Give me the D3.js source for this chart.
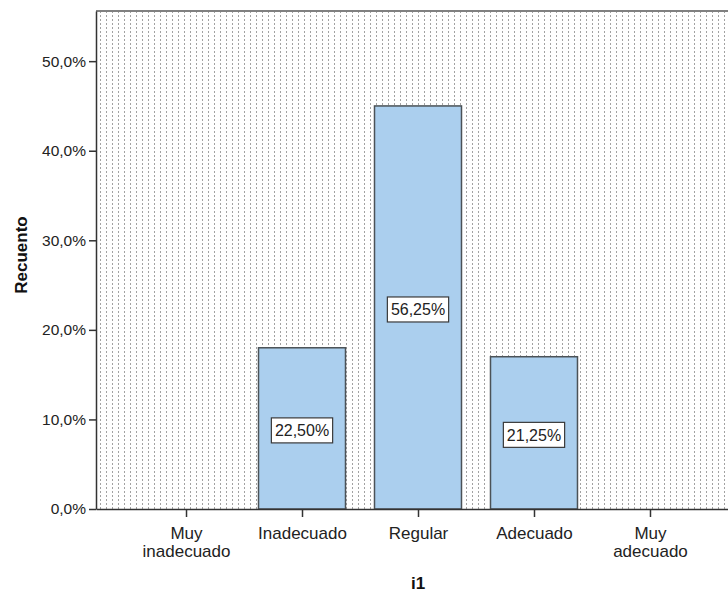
<!DOCTYPE html>
<html>
<head>
<meta charset="utf-8">
<script src="https://cdn.jsdelivr.net/npm/d3@7"></script>
<style>
  body { margin: 0; background: #fff; }
  svg { display: block; font-family: "Liberation Sans", Arial, sans-serif; }
  .bar { fill: #abcfee; stroke: #4b5257; stroke-width: 1.5; }
  .bar-label-box { fill: #fff; stroke: #3a3a3a; stroke-width: 1.2; }
  .bar-label { font-size: 16px; fill: #222; }
  .axis-title { font-weight: bold; font-size: 17px; fill: #111; }
</style>
</head>
<body>
<div id="chart"></div>
<script>
// data
const categories = ['Muy inadecuado', 'Inadecuado', 'Regular', 'Adecuado', 'Muy adecuado'];
const counts = [0, 18, 45, 17, 0];
const pctLabels = ['', '22,50%', '56,25%', '21,25%', ''];
const yTicks = [0, 10, 20, 30, 40, 50];

const config = {
  width: 728,
  height: 592,
  margin: {top: 11, right: -12, bottom: 83, left: 96}
};

const innerW = config.width - config.margin.left - config.margin.right;
const innerH = config.height - config.margin.top - config.margin.bottom;

const svg = d3.select('#chart').append('svg')
    .attr('width', config.width)
    .attr('height', config.height);

// dotted background fill, like the SPSS default
svg.append('defs').append('pattern')
    .attr('id', 'dots')
    .attr('patternUnits', 'userSpaceOnUse')
    .attr('width', 6)
    .attr('height', 4)
  .append('rect')
    .attr('x', 4)
    .attr('y', 0)
    .attr('width', 1)
    .attr('height', 2)
    .attr('fill', '#a2a2a2');

const chart = svg.append('g')
    .attr('transform', `translate(${config.margin.left},${config.margin.top})`);

const x = d3.scalePoint()
    .domain(categories)
    .range([0, innerW])
    .padding(0.776);

const barW = x.step() * 0.75;

const y = d3.scaleLinear()
    .domain([0, 55.6])
    .range([innerH, 0]);

chart.append('rect')
    .attr('width', innerW)
    .attr('height', innerH)
    .attr('fill', 'url(#dots)');

// top frame line
chart.append('line')
    .attr('x1', 0).attr('x2', innerW)
    .attr('y1', 0).attr('y2', 0)
    .attr('stroke', '#808080')
    .attr('stroke-width', 2);

const data = categories.map((c, i) => ({cat: c, n: counts[i], label: pctLabels[i]}))
    .filter(d => d.n > 0);

chart.selectAll('.bar')
    .data(data)
  .join('rect')
    .attr('class', 'bar')
    .attr('x', d => x(d.cat) - barW / 2)
    .attr('y', d => y(d.n))
    .attr('width', barW)
    .attr('height', d => y(0) - y(d.n));

const labels = chart.selectAll('.bar-label-g')
    .data(data)
  .join('g')
    .attr('class', 'bar-label-g')
    .attr('transform', d => `translate(${x(d.cat)},${(y(d.n) + y(0)) / 2 + 2})`);

labels.append('text')
    .attr('class', 'bar-label')
    .attr('text-anchor', 'middle')
    .attr('dy', '0.36em')
    .text(d => d.label);

labels.each(function() {
  const g = d3.select(this);
  const bb = g.select('text').node().getBBox();
  g.insert('rect', 'text')
    .attr('class', 'bar-label-box')
    .attr('x', bb.x - 3.5)
    .attr('y', -12.5)
    .attr('width', bb.width + 7)
    .attr('height', 25);
});

// axes
const fmt = v => d3.format('.1f')(v).replace('.', ',') + '%';

const yAxis = chart.append('g')
    .call(d3.axisLeft(y).tickValues(yTicks).tickFormat(fmt).tickSize(7).tickPadding(3).tickSizeOuter(0));
yAxis.select('.domain').attr('stroke', '#333').attr('stroke-width', 1.5);
yAxis.selectAll('.tick line').attr('stroke', '#333').attr('stroke-width', 1.5);
yAxis.selectAll('.tick text').attr('font-size', 15.5).attr('fill', '#222').attr('font-family', null);

const xAxis = chart.append('g')
    .attr('transform', `translate(0,${innerH})`)
    .call(d3.axisBottom(x).tickSize(8).tickSizeOuter(0).tickFormat(''));
xAxis.select('.domain').attr('stroke', '#333').attr('stroke-width', 1.5);
xAxis.selectAll('.tick line').attr('stroke', '#333').attr('stroke-width', 1.5);

// tick labels on two lines where SPSS wraps them
xAxis.selectAll('.tick').each(function(d) {
  const words = d.split(' ');
  const lines = words.length > 1 ? [words[0], words.slice(1).join(' ')] : [d];
  const t = d3.select(this).append('text')
      .attr('text-anchor', 'middle')
      .attr('fill', '#222')
      .attr('font-size', 17);
  lines.forEach((l, i) => {
    t.append('tspan').attr('x', 0).attr('y', 30 + i * 17.5).text(l);
  });
});

// axis titles
svg.append('text')
    .attr('class', 'axis-title')
    .attr('text-anchor', 'middle')
    .attr('transform', `translate(27,255) rotate(-90)`)
    .text('Recuento');

svg.append('text')
    .attr('class', 'axis-title')
    .attr('text-anchor', 'middle')
    .attr('x', config.margin.left + x('Regular'))
    .attr('y', 589)
    .text('i1');
</script>
</body>
</html>
